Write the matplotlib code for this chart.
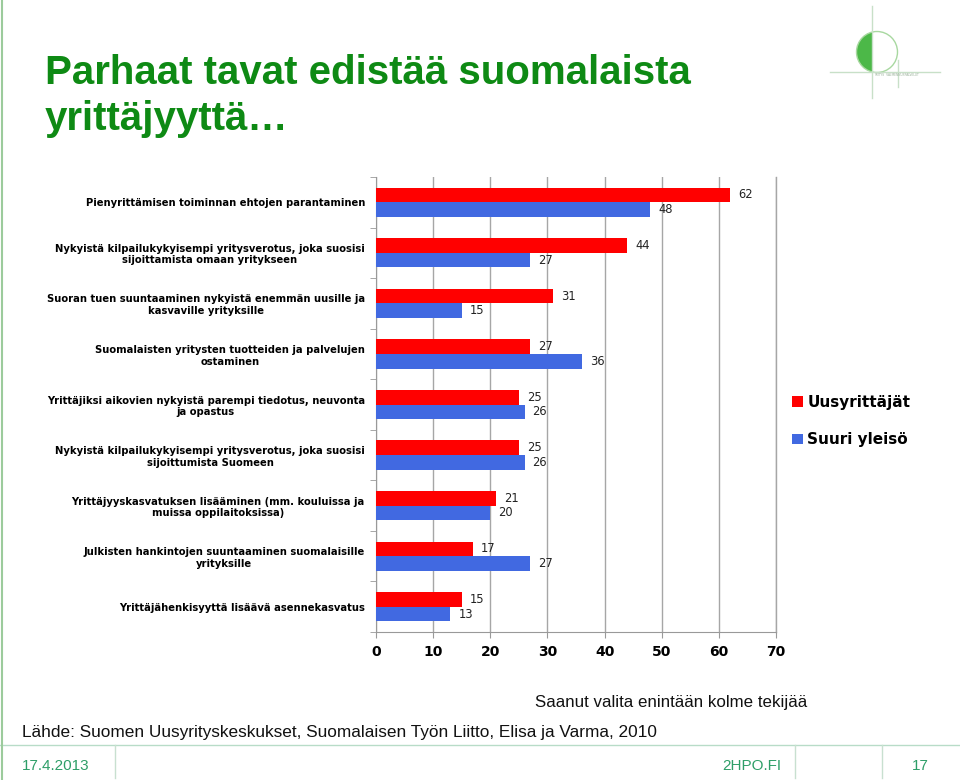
import matplotlib
matplotlib.use("Agg")
import matplotlib.pyplot as plt
from matplotlib import font_manager
from matplotlib.patches import Circle, Polygon
from matplotlib.lines import Line2D
import numpy as np

# ── data ──
categories = [
    "Pienyrittämisen toiminnan ehtojen parantaminen",
    "Nykyistä kilpailukykyisempi yritysverotus, joka suosisi\nsijoittamista omaan yritykseen",
    "Suoran tuen suuntaaminen nykyistä enemmän uusille ja\nkasvaville yrityksille",
    "Suomalaisten yritysten tuotteiden ja palvelujen\nostaminen",
    "Yrittäjiksi aikovien nykyistä parempi tiedotus, neuvonta\nja opastus",
    "Nykyistä kilpailukykyisempi yritysverotus, joka suosisi\nsijoittumista Suomeen",
    "Yrittäjyyskasvatuksen lisääminen (mm. kouluissa ja\nmuissa oppilaitoksissa)",
    "Julkisten hankintojen suuntaaminen suomalaisille\nyrityksille",
    "Yrittäjähenkisyyttä lisäävä asennekasvatus",
]
uusyrittajat = [62, 44, 31, 27, 25, 25, 21, 17, 15]
suuri_yleiso = [48, 27, 15, 36, 26, 26, 20, 27, 13]
series_names = ["Uusyrittäjät", "Suuri yleisö"]
x_ticks = [0, 10, 20, 30, 40, 50, 60, 70]

title = "Parhaat tavat edistää suomalaista\nyrittäjyyttä…"
note = "Saanut valita enintään kolme tekijää"
source = "Lähde: Suomen Uusyrityskeskukset, Suomalaisen Työn Liitto, Elisa ja Varma, 2010"
footer_date = "17.4.2013"
footer_site = "2HPO.FI"
footer_page = "17"

RED = "#FF0000"
BLUE = "#4169E1"
TITLE_GREEN = "#0E8A14"
FOOT_GREEN = "#2E9E68"

installed = {f.name for f in font_manager.fontManager.ttflist}
narrow = "Liberation Sans Narrow" if "Liberation Sans Narrow" in installed else "Liberation Sans"

fig = plt.figure(figsize=(9.6, 7.8), dpi=100)
W, H = 960, 780


def fx(px):
    return px / W


def fy(py):
    return 1 - py / H


# ── chart ──
ax = fig.add_axes([fx(376), fy(632), fx(776) - fx(376), fy(177) - fy(632)])
y = np.arange(len(categories))
h = 0.29
ax.barh(y - h / 2, uusyrittajat, height=h, color=RED, zorder=3, label=series_names[0])
ax.barh(y + h / 2, suuri_yleiso, height=h, color=BLUE, zorder=3, label=series_names[1])
for yi, a, b in zip(y, uusyrittajat, suuri_yleiso):
    ax.text(a + 1.4, yi - h / 2, str(a), va="center", ha="left", fontsize=8.3, color="#222222")
    ax.text(b + 1.4, yi + h / 2, str(b), va="center", ha="left", fontsize=8.3, color="#222222")

ax.set_xlim(0, 70)
ax.set_ylim(len(categories) - 0.5, -0.5)
ax.set_xticks(x_ticks)
ax.set_xticklabels([str(t) for t in x_ticks], fontsize=10, fontweight="bold")
ax.set_yticks(y)
ax.set_yticklabels(categories, fontsize=7.2, fontweight="bold")
for lbl in ax.get_yticklabels():
    lbl.set_multialignment("center")
ax.set_yticks(np.arange(-0.5, len(categories), 1), minor=True)
ax.tick_params(axis="y", which="major", length=0, pad=8)
ax.tick_params(axis="y", which="minor", length=4, color="#999999")
ax.tick_params(axis="x", length=4, color="#999999", pad=5)
ax.grid(axis="x", color="#A6A6A6", lw=1, zorder=0)
ax.axvline(70, color="#A6A6A6", lw=1, zorder=0, clip_on=False)
for s in ("top", "right"):
    ax.spines[s].set_visible(False)
for s in ("left", "bottom"):
    ax.spines[s].set_color("#999999")

pos = ax.get_position()
ax.legend(loc="upper left",
          bbox_to_anchor=((fx(786) - pos.x0) / pos.width, 1 - (389 - 177) / 455),
          frameon=False, prop={"weight": "bold", "size": 11}, handlelength=0.7, handleheight=0.7,
          handletextpad=0.3, labelspacing=1.45, borderaxespad=0)

# ── title ──
fig.text(fx(45), fy(96), title, fontsize=29, fontweight="bold", color=TITLE_GREEN,
         family=narrow, va="center", ha="left", linespacing=1.25)

# ── notes and footer ──
fig.text(fx(535), fy(703), note, fontsize=12.2, family=narrow, va="center", ha="left", color="#111111")
fig.text(fx(22), fy(732), source, fontsize=12.4, family=narrow, va="center", ha="left", color="#111111")
fig.add_artist(Line2D([0, 1], [fy(745), fy(745)], color="#B8DCC8", lw=1))
for xv in (115, 795, 882):
    fig.add_artist(Line2D([fx(xv), fx(xv)], [fy(745), fy(778)], color="#C8E0D0", lw=1))
fig.text(fx(22), fy(766), footer_date, fontsize=11, family=narrow, color=FOOT_GREEN, va="center")
fig.text(fx(722), fy(766), footer_site, fontsize=11, family=narrow, color=FOOT_GREEN, va="center")
fig.text(fx(912), fy(766), footer_page, fontsize=11, family=narrow, color=FOOT_GREEN, va="center")
fig.add_artist(Line2D([fx(2), fx(2)], [0, 1], color="#9CCB9C", lw=1.5))

# ── logo ──
logo = fig.add_axes([fx(820), fy(110), fx(140), fy(0) - fy(110)])
logo.set_xlim(820, 960)
logo.set_ylim(110, 0)
logo.set_aspect("equal")
logo.axis("off")
cx, cy, r, cut = 877, 52, 20.5, 872
t = np.linspace(np.arccos((cut - cx) / r), 2 * np.pi - np.arccos((cut - cx) / r), 80)
logo.add_patch(Polygon(np.column_stack([cx + r * np.cos(t), cy + r * np.sin(t)]),
                       closed=True, facecolor="#4CB848", edgecolor="none"))
logo.add_patch(Circle((cx, cy), r, fill=False, edgecolor="#A8D8A0", lw=1))
logo.plot([cut, cut], [6, 98], color="#C8E0C8", lw=1)
logo.plot([830, 940], [72, 72], color="#C8E0C8", lw=1)
logo.plot([898, 898], [60, 87], color="#C8E0C8", lw=1)
logo.text(874, 75, "YRITYS  VALMENNUSPALVELUT", fontsize=2.2, color="#9AB09A", va="center")

fig.savefig("out.png", dpi=100)
